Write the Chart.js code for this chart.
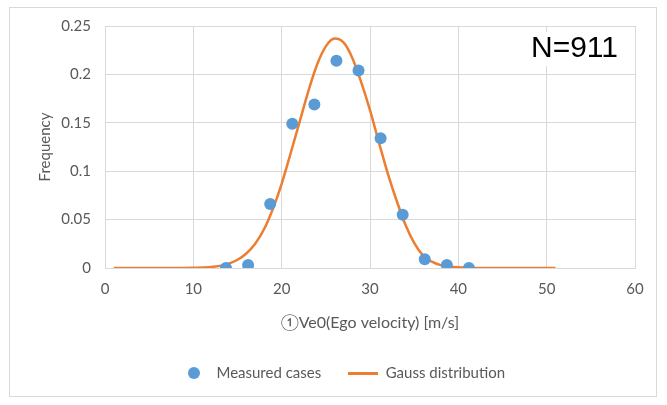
<!DOCTYPE html>
<html><head><meta charset="utf-8">
<script src="https://cdn.jsdelivr.net/npm/chart.js@4.4.1/dist/chart.umd.min.js"></script>
<style>
html,body{margin:0;padding:0;background:#fff;}
#wrap{position:relative;width:667px;height:405px;}
#frame{position:absolute;left:9px;top:7px;width:646px;height:388px;border:1px solid #d9d9d9;}
canvas{position:absolute;left:0;top:0;}
</style></head><body>
<div id="wrap"><div id="frame"></div><canvas id="c" width="667" height="405"></canvas></div>
<script>
// ---- data ----
const seriesNames = ['Measured cases', 'Gauss distribution'];
const measuredX = [13.7, 16.2, 18.7, 21.2, 23.7, 26.2, 28.7, 31.2, 33.7, 36.2, 38.7, 41.2];
const measuredY = [0.0, 0.003, 0.066, 0.149, 0.169, 0.214, 0.204, 0.134, 0.055, 0.009, 0.003, 0.0];
const gaussX = [1, 5, 8, 10, 11, 12, 13, 14, 15, 16, 17, 18, 19, 20, 21, 22, 23, 24, 25, 26, 27, 28, 29, 30, 31, 32, 33, 34, 35, 36, 37, 38, 39, 40, 41, 42, 44, 47, 51];
const gaussY = [0, 0, 0, 0.0002, 0.0005, 0.001, 0.0022, 0.0045, 0.0085, 0.015, 0.025, 0.04, 0.061, 0.087, 0.118, 0.15, 0.182, 0.21, 0.229, 0.237, 0.233, 0.217, 0.192, 0.163, 0.13, 0.098, 0.07, 0.045, 0.026, 0.013, 0.0065, 0.003, 0.0015, 0.0007, 0.0003, 0.0001, 0, 0, 0];
const xTickValues = [0, 10, 20, 30, 40, 50, 60];
const xTickLabels = ['0', '10', '20', '30', '40', '50', '60'];
const yTickValues = [0, 0.05, 0.1, 0.15, 0.2, 0.25];
const yTickLabels = ['0', '0.05', '0.1', '0.15', '0.2', '0.25'];
const xTitle = '①Ve0(Ego velocity) [m/s]';
const yTitle = 'Frequency';
const annotationText = 'N=911';

const BLUE = '#5B9BD5', ORANGE = '#ED7D31', GRID = '#d9d9d9', TXT = '#595959';
const FONT = "Lato, 'Noto Sans CJK JP', sans-serif";

function circleImg(color, d) {
  const c = document.createElement('canvas'); c.width = d; c.height = d;
  const x = c.getContext('2d'); x.fillStyle = color; x.beginPath();
  x.arc(d / 2, d / 2, d / 2, 0, Math.PI * 2); x.fill(); return c;
}
function lineImg(color, w, h) {
  const c = document.createElement('canvas'); c.width = w; c.height = h;
  const x = c.getContext('2d'); x.fillStyle = color; x.fillRect(0, 0, w, h); return c;
}

const annot = {
  id: 'annot',
  afterDatasetsDraw(chart) {
    const {ctx, chartArea} = chart;
    ctx.save();
    ctx.font = '30px "Liberation Sans", Arial, sans-serif';
    const w = ctx.measureText(annotationText).width;
    const xr = chartArea.right - 17, yc = chartArea.top + 23;
    ctx.fillStyle = '#fff';
    ctx.fillRect(xr - w - 6, yc - 17, w + 12, 34);
    ctx.fillStyle = '#000'; ctx.textAlign = 'right'; ctx.textBaseline = 'middle';
    ctx.fillText(annotationText, xr, yc);
    ctx.restore();
  }
};

new Chart(document.getElementById('c'), {
  type: 'scatter',
  data: {
    datasets: [
      {
        label: seriesNames[0],
        data: measuredX.map((x, i) => ({x, y: measuredY[i]})),
        backgroundColor: BLUE, borderColor: BLUE, borderWidth: 0,
        pointRadius: 6, pointHoverRadius: 6, showLine: false
      },
      {
        label: seriesNames[1],
        data: gaussX.map((x, i) => ({x, y: gaussY[i]})),
        borderColor: ORANGE, backgroundColor: ORANGE, borderWidth: 2.5,
        pointRadius: 0, showLine: true, cubicInterpolationMode: 'monotone'
      }
    ]
  },
  options: {
    responsive: false, animation: false, devicePixelRatio: 1,
    layout: {padding: {top: 26, right: 0, bottom: 14.5, left: 17}},
    plugins: {
      tooltip: {enabled: false},
      legend: {
        position: 'bottom',
        labels: {
          usePointStyle: true, pointStyleWidth: 30, padding: 27,
          color: TXT, font: {family: FONT, size: 15},
          generateLabels(chart) {
            const items = Chart.defaults.plugins.legend.labels.generateLabels(chart);
            items[0].pointStyle = circleImg(BLUE, 12);
            items[1].pointStyle = lineImg(ORANGE, 30, 3);
            return items;
          }
        }
      }
    },
    scales: {
      x: {
        type: 'linear', min: 0, max: 60,
        afterBuildTicks(s) { s.ticks = xTickValues.map(v => ({value: v})); },
        afterFit(s) { s.height = 70.5; },
        grid: {color: GRID, lineWidth: 1, drawTicks: false},
        border: {color: GRID},
        ticks: {padding: 12, color: TXT, font: {family: FONT, size: 15}, maxRotation: 0,
                callback: (v, i) => xTickLabels[i]},
        title: {display: true, text: xTitle, color: TXT, font: {family: FONT, size: 16}, padding: {top: 0, bottom: 6}}
      },
      y: {
        type: 'linear', min: 0, max: 0.25,
        afterBuildTicks(s) { s.ticks = yTickValues.map(v => ({value: v})); },
        afterFit(s) { s.width = 88; },
        grid: {color: GRID, lineWidth: 1, drawTicks: false},
        border: {color: GRID},
        ticks: {padding: 14, color: TXT, font: {family: FONT, size: 15},
                callback: (v, i) => yTickLabels[i]},
        title: {display: true, text: yTitle, color: TXT, font: {family: FONT, size: 15}, padding: {top: 19, bottom: 0}}
      },
      y2: {
        type: 'linear', position: 'right', display: true,
        grid: {display: false, drawTicks: false}, border: {display: false},
        ticks: {display: false}, afterFit(s) { s.width = 32; }
      }
    }
  },
  plugins: [annot]
});
</script>
</body></html>
